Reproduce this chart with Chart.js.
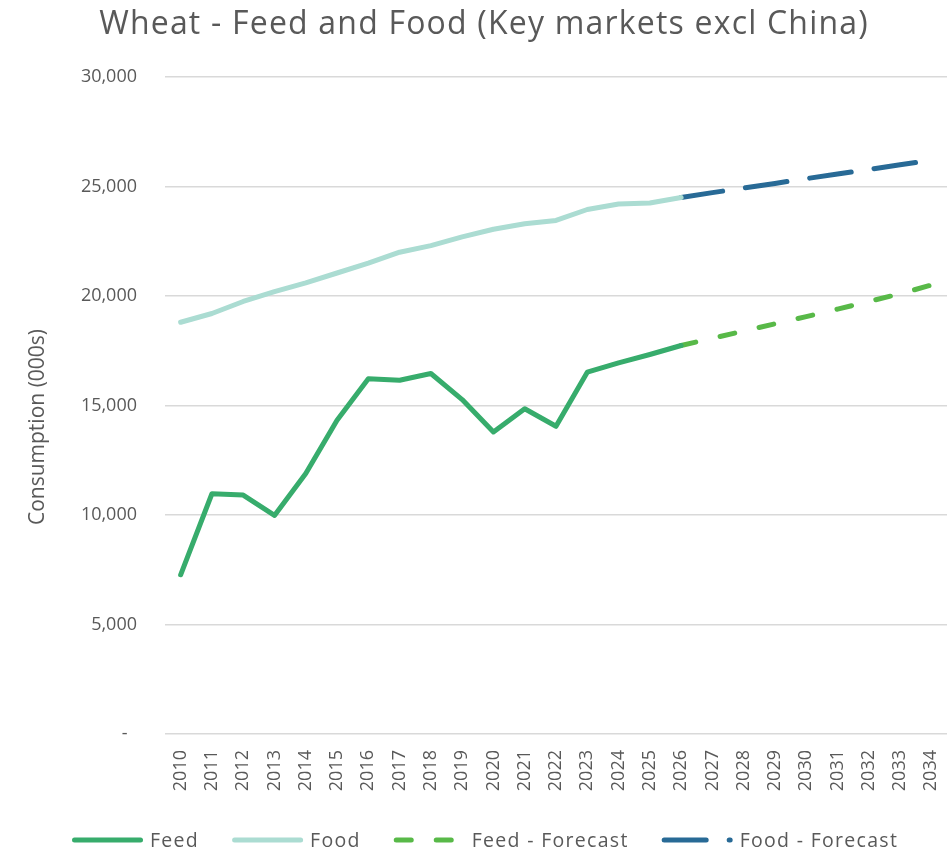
<!DOCTYPE html>
<html>
<head>
<meta charset="utf-8">
<script src="https://cdn.jsdelivr.net/npm/chart.js@4"></script>
<style>
  html, body { margin: 0; padding: 0; background: #ffffff; overflow: hidden; }
  #wrap { position: relative; width: 947px; height: 849px; }
</style>
</head>
<body>
<div id="wrap"><canvas id="c" width="947" height="849"></canvas></div>
<script>
// ---- Data ----
const years = ['2010','2011','2012','2013','2014','2015','2016','2017','2018','2019','2020','2021','2022',
               '2023','2024','2025','2026','2027','2028','2029','2030','2031','2032','2033','2034'];
const feedActual = [7270, 10970, 10910, 9980, 11890, 14330, 16220, 16150, 16460, 15270, 13790, 14850, 14050,
                    16520, 16950, 17330, 17740];
const foodActual = [18800, 19200, 19750, 20200, 20600, 21050, 21500, 22000, 22300, 22700, 23050, 23300, 23450,
                    23950, 24200, 24250, 24500];
const forecastYears = ['2026','2027','2028','2029','2030','2031','2032','2033','2034'];
const feedForecast = [17740, 18070, 18400, 18730, 19060, 19400, 19750, 20100, 20500];
const foodForecast = [24500, 24720, 24930, 25140, 25360, 25570, 25780, 25990, 26200];
const yTicks = [0, 5000, 10000, 15000, 20000, 25000, 30000];
const seriesNames = ['Feed', 'Food', 'Feed - Forecast', 'Food - Forecast'];
const chartTitle = 'Wheat - Feed and Food (Key markets excl China)';
const yAxisTitle = 'Consumption (000s)';

function alignTo(cats, srcCats, vals) {
  return cats.map(c => { const i = srcCats.indexOf(c); return i >= 0 ? vals[i] : null; });
}
const actualYears = years.slice(0, feedActual.length);

const FONT = "'Open Sans', 'Liberation Sans', sans-serif";
const GREY = '#595959';

const extrasPlugin = {
  id: 'extras',
  afterDraw(chart) {
    const ctx = chart.ctx;
    // chart title
    ctx.save();
    ctx.font = '32px ' + FONT;
    ctx.letterSpacing = '1.2px';
    ctx.fillStyle = GREY;
    ctx.textAlign = 'left';
    ctx.textBaseline = 'alphabetic';
    const tw = ctx.measureText(chartTitle).width;
    ctx.fillText(chartTitle, 484 - tw / 2, 34);
    ctx.restore();
    // y-axis title
    ctx.save();
    ctx.font = '21px ' + FONT;
    ctx.fillStyle = GREY;
    ctx.textAlign = 'center';
    ctx.textBaseline = 'middle';
    ctx.translate(38, 427);
    ctx.rotate(-Math.PI / 2);
    ctx.fillText(yAxisTitle, 0, 0);
    ctx.restore();
    // legend
    ctx.save();
    ctx.font = '19.5px ' + FONT;
    ctx.letterSpacing = '1.3px';
    ctx.textBaseline = 'alphabetic';
    const y = 840;
    let x = 72;
    const sampleW = 71, gapText = 7, gapItem = 33;
    chart.data.datasets.forEach(ds => {
      ctx.save();
      ctx.strokeStyle = ds.borderColor;
      ctx.lineWidth = ds.borderWidth;
      ctx.lineCap = 'round';
      ctx.setLineDash(ds.borderDash || []);
      ctx.beginPath();
      ctx.moveTo(x + 2.5, y);
      ctx.lineTo(x + sampleW - 2.5, y);
      ctx.stroke();
      ctx.restore();
      x += sampleW + gapText;
      ctx.fillStyle = GREY;
      ctx.fillText(ds.label, x, 847);
      x += ctx.measureText(ds.label).width + gapItem;
    });
    ctx.restore();
  }
};

new Chart(document.getElementById('c'), {
  type: 'line',
  data: {
    labels: years,
    datasets: [
      { label: seriesNames[0], data: alignTo(years, actualYears, feedActual), borderColor: '#37ac6c', borderWidth: 5 },
      { label: seriesNames[1], data: alignTo(years, actualYears, foodActual), borderColor: '#abdcd2', borderWidth: 5 },
      { label: seriesNames[2], data: alignTo(years, forecastYears, feedForecast), borderColor: '#58b948', borderWidth: 5, borderDash: [15, 25] },
      { label: seriesNames[3], data: alignTo(years, forecastYears, foodForecast), borderColor: '#286a96', borderWidth: 5, borderDash: [42, 23] }
    ]
  },
  options: {
    responsive: false,
    animation: false,
    devicePixelRatio: 1,
    layout: { padding: { left: 0, right: 0, top: 77, bottom: 45 } },
    elements: {
      point: { radius: 0, hoverRadius: 0 },
      line: { tension: 0, borderCapStyle: 'round', borderJoinStyle: 'round', fill: false }
    },
    spanGaps: false,
    plugins: {
      legend: { display: false },
      tooltip: { enabled: false },
      title: { display: false }
    },
    scales: {
      x: {
        offset: true,
        grid: { display: false, drawTicks: false },
        border: { display: false },
        ticks: {
          color: GREY, font: { family: FONT, size: 18 },
          minRotation: 90, maxRotation: 90, autoSkip: false, padding: 16
        },
        afterFit(scale) { scale.height = 70; scale.paddingLeft = 0; scale.paddingRight = 0; }
      },
      y: {
        min: 0, max: 30000,
        afterBuildTicks(scale) { scale.ticks = yTicks.map(v => ({ value: v })); },
        grid: { color: '#d9d9d9', lineWidth: 1.5, drawTicks: false },
        border: { display: false },
        ticks: {
          color: GREY, font: { family: FONT, size: 18 }, padding: 28,
          callback: v => v === 0 ? '-  ' : v.toLocaleString('en-US')
        },
        afterFit(scale) { scale.width = 165; scale.paddingTop = 0; scale.paddingBottom = 0; }
      }
    }
  },
  plugins: [extrasPlugin]
});
</script>
</body>
</html>
